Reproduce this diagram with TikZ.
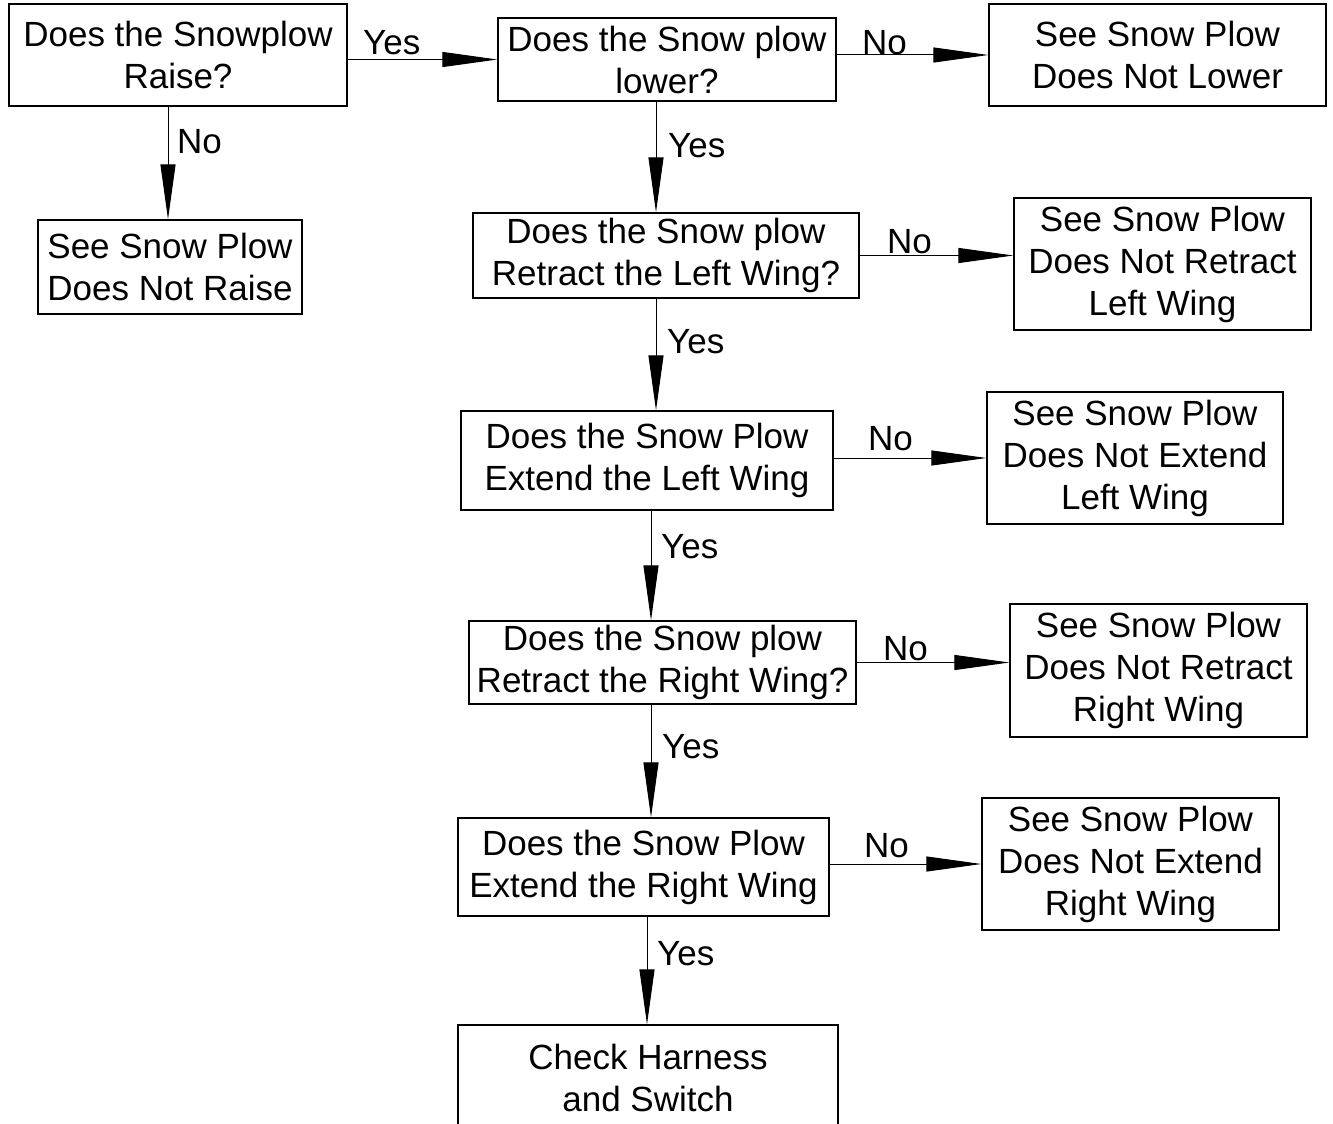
\documentclass[tikz,border=0pt]{standalone}
\usepackage{fontspec}
\setmainfont{Liberation Sans}
\usetikzlibrary{arrows.meta}
\begin{document}
\begin{tikzpicture}[x=1pt,y=-1pt,
  every node/.style={font=\fontsize{35}{42}\selectfont},
  box/.style={draw,line width=1.3pt,inner sep=0pt,align=center},
  lbl/.style={inner sep=0pt,anchor=base west},
  arr/.style={line width=1pt,-{Triangle[length=55pt,width=15pt]}}]
\useasboundingbox (0,0) rectangle (1333,1124);
% boxes
\node[box,minimum width=338pt,minimum height=102pt] (q1) at (178,55) {Does the Snowplow\\Raise?};
\node[box,minimum width=264pt,minimum height=94pt] (r1) at (170,267) {See Snow Plow\\Does Not Raise};
\node[box,minimum width=338pt,minimum height=83pt] (q2) at (667,59.5) {Does the Snow plow\\lower?};
\node[box,minimum width=337pt,minimum height=102pt] (r2) at (1157.5,55) {See Snow Plow\\Does Not Lower};
\node[box,minimum width=386pt,minimum height=85pt] (q3) at (666,255.5) {Does the Snow plow\\Retract the Left Wing?};
\node[box,minimum width=297pt,minimum height=132pt] (r3) at (1162.5,264) {See Snow Plow\\Does Not Retract\\Left Wing};
\node[box,minimum width=372pt,minimum height=99pt] (q4) at (647,460.5) {Does the Snow Plow\\Extend the Left Wing};
\node[box,minimum width=296pt,minimum height=132pt] (r4) at (1135,458) {See Snow Plow\\Does Not Extend\\Left Wing};
\node[box,minimum width=387pt,minimum height=83pt] (q5) at (662.5,662.5) {Does the Snow plow\\Retract the Right Wing?};
\node[box,minimum width=297pt,minimum height=133pt] (r5) at (1158.5,670.5) {See Snow Plow\\Does Not Retract\\Right Wing};
\node[box,minimum width=371pt,minimum height=98pt] (q6) at (643.5,867) {Does the Snow Plow\\Extend the Right Wing};
\node[box,minimum width=297pt,minimum height=132pt] (r6) at (1130.5,864) {See Snow Plow\\Does Not Extend\\Right Wing};
\node[box,minimum width=380pt,minimum height=106pt] (fin) at (648,1078) {Check Harness\\and Switch};
% x positions of vertical connectors
\coordinate (xa) at (168,0);
\coordinate (xb) at (656,0);
\coordinate (xc) at (651,0);
\coordinate (xd) at (647,0);
% connectors
\draw[arr] (q1.south -| xa) -- (r1.north -| xa);
\draw[arr] (q1.east |- q2.west) -- (q2.west);
\draw[arr] (q2.east |- r2.west) -- (r2.west);
\draw[arr] (q2.south -| xb) -- (q3.north -| xb);
\draw[arr] (q3.east) -- (q3.east -| r3.west);
\draw[arr] (q3.south -| xb) -- (q4.north -| xb);
\draw[arr] (q4.east |- r4.west) -- (r4.west);
\draw[arr] (q4.south -| xc) -- (q5.north -| xc);
\draw[arr] (q5.east) -- (q5.east -| r5.west);
\draw[arr] (q5.south -| xc) -- (q6.north -| xc);
\draw[arr] (q6.east |- r6.west) -- (r6.west);
\draw[arr] (q6.south -| xd) -- (fin.north -| xd);
% labels
\node[lbl] (l1) at (363,55) {Yes};
\node[lbl] (l2) at (177,153) {No};
\node[lbl] (l3) at (862,55) {No};
\node[lbl] (l4) at (668,157) {Yes};
\node[lbl] (l5) at (887,253) {No};
\node[lbl] (l6) at (667,353) {Yes};
\node[lbl] (l7) at (868,450) {No};
\node[lbl] (l8) at (661,558) {Yes};
\node[lbl] (l9) at (883,660) {No};
\node[lbl] (l10) at (662,758) {Yes};
\node[lbl] (l11) at (864,857) {No};
\node[lbl] (l12) at (657,965) {Yes};
\end{tikzpicture}
\end{document}
